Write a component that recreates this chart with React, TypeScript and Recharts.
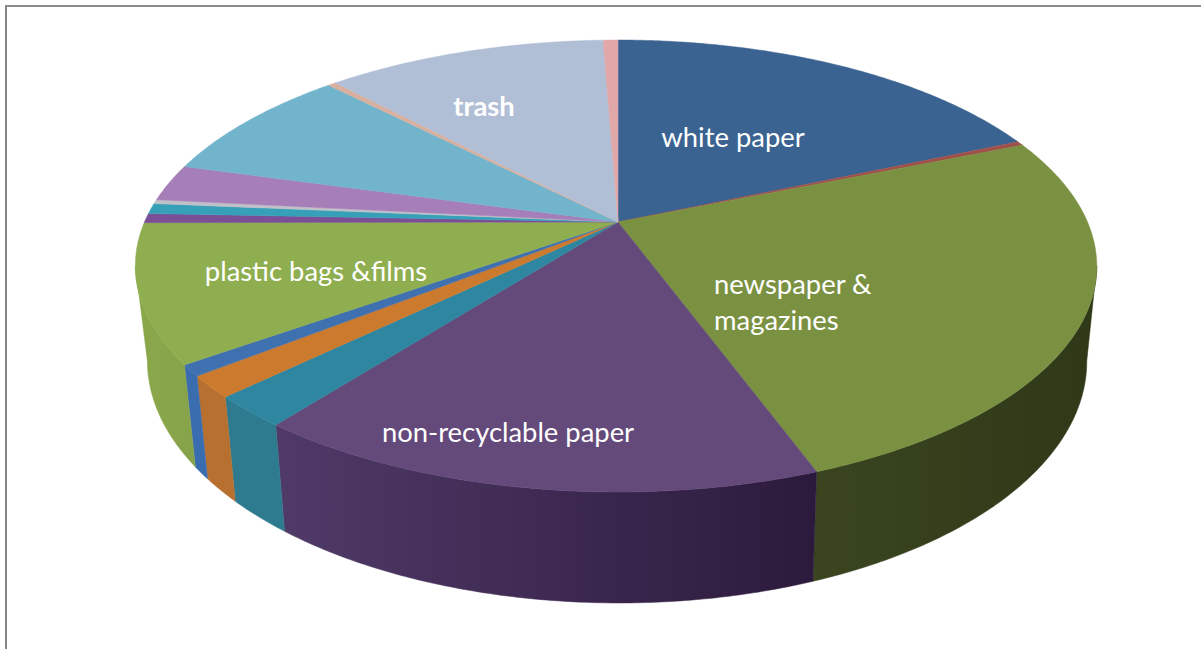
import React from 'react';
import { PieChart, Pie } from 'recharts';

// Waste composition, percent of total, clockwise from twelve o'clock
const categories = [
  'white paper', 'other paper', 'newspaper & magazines', 'non-recyclable paper',
  'cardboard', 'glass', 'metal', 'plastic bags &films', 'plastic bottles',
  'other plastic', 'textiles', 'organics', 'yard waste', 'wood', 'trash', 'other',
];
const shares = [18.5, 0.3, 25.6, 16.1, 2.25, 1.55, 0.8, 9.85, 0.67, 0.75, 0.3, 2.65, 8.4, 0.33, 11.35, 0.6];

const topColors = [
  '#3a6391', '#a0504a', '#7b9142', '#644a7a', '#2f86a0', '#cc7a2e', '#3f70b0', '#8fae50',
  '#7a4f96', '#36a0b8', '#c0c0c8', '#a67fb8', '#72b4cc', '#d8b0a0', '#b0bed6', '#e0a8a8',
];
const wallLeft = [
  '#2a4a6c', '#6e3431', '#3a4520', '#503a68', '#2e7a8e', '#b87030', '#3a6cb0', '#8aa84a',
  '#5a3a70', '#287a8c', '#8c8c92', '#7a5c88', '#548498', '#a08274', '#828ca0', '#a87c7c',
];
const wallRight = [
  '#2a4a6c', '#6e3431', '#2f3817', '#2c1a3c', '#2e7a8e', '#b87030', '#3a6cb0', '#87a34a',
  '#5a3a70', '#287a8c', '#8c8c92', '#7a5c88', '#548498', '#a08274', '#828ca0', '#a87c7c',
];

const pieData = categories.map((name, i) => ({ name, value: shares[i], fill: topColors[i], idx: i }));

// Text anchors for the slices that carry a label
const labelSpots: Record<string, { x: number; y: number; lines: string[]; anchor: string; bold?: boolean }> = {
  'white paper': { x: 733, y: 147, lines: ['white paper'], anchor: 'middle' },
  'newspaper & magazines': { x: 714, y: 294, lines: ['newspaper &', 'magazines'], anchor: 'start' },
  'non-recyclable paper': { x: 508, y: 442, lines: ['non-recyclable paper'], anchor: 'middle' },
  'plastic bags &films': { x: 316, y: 281, lines: ['plastic bags &films'], anchor: 'middle' },
  trash: { x: 484, y: 116, lines: ['trash'], anchor: 'middle', bold: true },
};

const W = 1201;
const H = 649;
const CX = 618;
const CY = 222;
const RADIUS = 471.5;

// The disc is seen from above: near side stretched, far side compressed
const TILT_K = 0.1947;
const TILT_H = 217.4;
const RIM_LEAN = 2;
const TOP_ELLIPSE = { cx: 616, cy: 266, rx: 481, ry: 226 };
const BASE_ELLIPSE = { cx: 617, cy: 361, rx: 470, ry: 242 };
const WALL_FROM = -168.8;
const WALL_TO = -11.2;

const rad = (deg: number) => (deg * Math.PI) / 180;

function rimPoint(deg: number, cx: number, cy: number, r: number) {
  const u = Math.cos(rad(deg));
  const v = Math.sin(rad(deg));
  const w = 1 + TILT_K * v;
  return { x: cx + (r * u) / w - RIM_LEAN * u * u, y: cy - (TILT_H * v) / w };
}

function basePoint(p: { x: number; y: number }) {
  const c = (p.x - TOP_ELLIPSE.cx) / TOP_ELLIPSE.rx;
  const s = (TOP_ELLIPSE.cy - p.y) / TOP_ELLIPSE.ry;
  return { x: BASE_ELLIPSE.cx + BASE_ELLIPSE.rx * c, y: BASE_ELLIPSE.cy - BASE_ELLIPSE.ry * s };
}

function sweep(a: number, b: number) {
  const n = Math.max(2, Math.ceil(Math.abs(b - a) * 2));
  const out: number[] = [];
  for (let i = 0; i <= n; i++) out.push(a + ((b - a) * i) / n);
  return out;
}

const toPath = (pts: { x: number; y: number }[]) =>
  pts.map((p, i) => `${i ? 'L' : 'M'}${p.x.toFixed(2)},${p.y.toFixed(2)}`).join(' ') + ' Z';

// Slice drawn from the angles the Pie computed, with its side wall when it faces front
function DiscSlice(props: any) {
  const { cx, cy, outerRadius, startAngle, endAngle, fill, payload } = props;
  const idx = payload?.idx ?? props.idx;
  const rim = sweep(startAngle, endAngle).map((a) => rimPoint(a, cx, cy, outerRadius));
  const hi = Math.min(Math.max(startAngle, endAngle), WALL_TO);
  const lo = Math.max(Math.min(startAngle, endAngle), WALL_FROM);
  let wall = null;
  if (hi > lo) {
    const upper = sweep(hi, lo).map((a) => rimPoint(a, cx, cy, outerRadius));
    const lower = upper.map(basePoint).reverse();
    wall = (
      <>
        <defs>
          <linearGradient id={`wall-${idx}`} x1="0" y1="0" x2="1" y2="0">
            <stop offset="0" stopColor={wallLeft[idx]} />
            <stop offset="1" stopColor={wallRight[idx]} />
          </linearGradient>
        </defs>
        <path d={toPath([...upper, ...lower])} fill={`url(#wall-${idx})`} stroke={`url(#wall-${idx})`} strokeWidth={0.5} />
      </>
    );
  }
  return (
    <g>
      {wall}
      <path d={toPath([{ x: cx, y: cy }, ...rim])} fill={fill} stroke={fill} strokeWidth={0.5} />
    </g>
  );
}

function SliceLabel(props: any) {
  const spot = labelSpots[props.name];
  if (!spot) return null;
  return (
    <text
      x={spot.x}
      y={spot.y}
      textAnchor={spot.anchor as any}
      fill="#ffffff"
      fontFamily="Lato, 'Open Sans', sans-serif"
      fontSize={27.4}
      fontWeight={spot.bold ? 700 : 400}
    >
      {spot.lines.map((line, i) => (
        <tspan key={line} x={spot.x} dy={i ? 36 : 0}>
          {line}
        </tspan>
      ))}
    </text>
  );
}

export default function App() {
  return (
    <div style={{ position: 'absolute', left: 0, top: 0, width: W, height: H, overflow: 'hidden', background: '#fff' }}>
      <div style={{ position: 'absolute', left: 5, top: 5, right: 0, bottom: 0, borderLeft: '2px solid #868686', borderTop: '2px solid #8c8c8c' }} />
      <div style={{ position: 'absolute', left: 0, top: 0 }}>
        <PieChart width={W} height={H} margin={{ top: 0, right: 0, bottom: 0, left: 0 }}>
          <Pie
            data={pieData}
            dataKey="value"
            nameKey="name"
            cx={CX}
            cy={CY}
            innerRadius={0}
            outerRadius={RADIUS}
            startAngle={90}
            endAngle={-270}
            stroke="none"
            shape={DiscSlice}
            label={SliceLabel}
            labelLine={false}
            isAnimationActive={false}
          />
        </PieChart>
      </div>
    </div>
  );
}
